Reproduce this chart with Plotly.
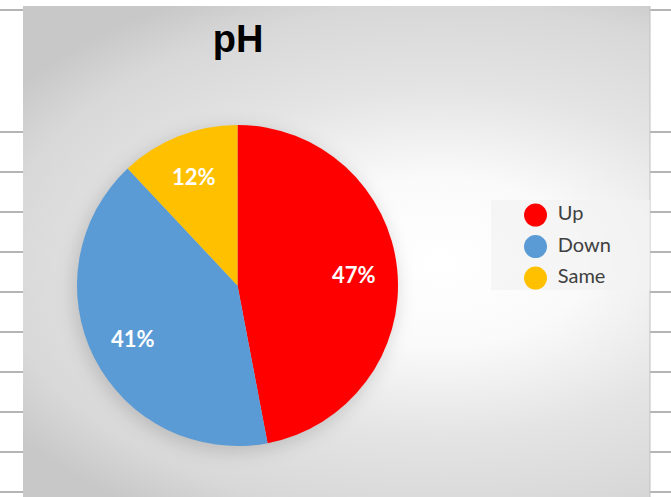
import base64
import math
import plotly.graph_objects as go

# data
categories = ["Up", "Down", "Same"]
values = [47, 41, 12]
colors = ["#FF0000", "#5B9BD5", "#FFC000"]
title = "pH"

W, H = 671, 497

# background: excel-like chart area with a radial gradient, sheet gridlines at the sides
grid_y = [10] + list(range(132, 497, 40))
lines = ""
for y in grid_y:
    lines += '<line x1="0" y1="%d" x2="23" y2="%d" stroke="#b5b5b5" stroke-width="2"/>' % (y, y)
    lines += '<line x1="650" y1="%d" x2="671" y2="%d" stroke="#b5b5b5" stroke-width="2"/>' % (y, y)

svg = f'''<svg xmlns="http://www.w3.org/2000/svg" width="{W}" height="{H}" viewBox="0 0 {W} {H}">
<defs>
<radialGradient id="bg" gradientUnits="userSpaceOnUse" cx="0" cy="0" r="1" gradientTransform="translate(440 262) scale(520 300)">
<stop offset="0" stop-color="#ffffff"/>
<stop offset="0.28" stop-color="#fafafa"/>
<stop offset="0.58" stop-color="#e4e4e4"/>
<stop offset="0.85" stop-color="#d8d8d8"/>
<stop offset="1" stop-color="#c8c8c8"/>
</radialGradient>
<filter id="blur" x="-50%" y="-50%" width="200%" height="200%"><feGaussianBlur stdDeviation="9"/></filter>
</defs>
<rect width="{W}" height="{H}" fill="#ffffff"/>
{lines}
<rect x="23" y="6" width="627" height="491" fill="url(#bg)"/>
<line x1="650" y1="6" x2="650" y2="497" stroke="#c0c0c0" stroke-width="1"/>
<circle cx="235" cy="290" r="162" fill="#000" fill-opacity="0.15" filter="url(#blur)"/>
</svg>'''
bg_src = "data:image/svg+xml;base64," + base64.b64encode(svg.encode()).decode()

pie_x = [77 / W, 398 / W]
pie_y = [1 - 446 / H, 1 - 125 / H]

fig = go.Figure()

fig.add_trace(go.Pie(
    labels=categories,
    values=values,
    marker=dict(colors=colors, line=dict(width=0)),
    sort=False,
    direction="clockwise",
    rotation=0,
    textinfo="none",
    domain=dict(x=pie_x, y=pie_y),
    showlegend=False,
    hoverinfo="label+percent",
))

# percentage labels, excel style: at ~0.73 of the radius on each slice's mid angle
cx = sum(pie_x) / 2
cy = sum(pie_y) / 2
rad = (pie_x[1] - pie_x[0]) * W / 2
total = sum(values)
cum = 0
annotations = []
for v in values:
    mid = (cum + v / 2) / total * 2 * math.pi
    cum += v
    r = 0.73 * rad
    annotations.append(dict(
        x=cx + r * math.sin(mid) / W, y=cy + r * math.cos(mid) / H,
        xref="paper", yref="paper", xanchor="center", yanchor="middle",
        showarrow=False,
        text="<b>%d%%</b>" % round(v / total * 100),
        font=dict(family="Lato", size=22, color="white"),
    ))

# legend drawn as markers + text on a hidden axis
idx = list(range(len(categories)))
fig.add_trace(go.Scatter(
    x=[0.28] * len(categories), y=idx, mode="markers",
    marker=dict(size=23, color=colors, line=dict(width=0)),
    showlegend=False, hoverinfo="skip",
))
fig.add_trace(go.Scatter(
    x=[0.42] * len(categories), y=idx, mode="text",
    text=categories, textposition="middle right",
    textfont=dict(family="Lato", size=20, color="#404040"),
    showlegend=False, hoverinfo="skip",
))

fig.update_layout(
    width=W, height=H,
    margin=dict(l=0, r=0, t=0, b=0),
    paper_bgcolor="white",
    plot_bgcolor="rgba(0,0,0,0)",
    title=dict(text="<b>%s</b>" % title, x=238 / W, xanchor="center",
               y=1 - 38.5 / H, yanchor="middle",
               font=dict(family="Liberation Sans", size=38, color="black")),
    xaxis=dict(domain=[491 / W, 650 / W], range=[0, 1], visible=False, fixedrange=True),
    yaxis=dict(domain=[1 - 290 / H, 1 - 200 / H], range=[2.38, -0.48], visible=False, fixedrange=True),
    images=[dict(source=bg_src, xref="paper", yref="paper", x=0, y=1, sizex=1, sizey=1,
                 xanchor="left", yanchor="top", sizing="stretch", layer="below")],
    shapes=[dict(type="rect", xref="paper", yref="paper",
                 x0=491 / W, x1=650 / W, y0=1 - 290 / H, y1=1 - 200 / H,
                 fillcolor="rgba(242,242,242,0.7)", line=dict(width=0), layer="below")],
    annotations=annotations,
)

fig.write_html("out.html", config={"displayModeBar": False},
               post_script="document.body.style.margin='0';")
